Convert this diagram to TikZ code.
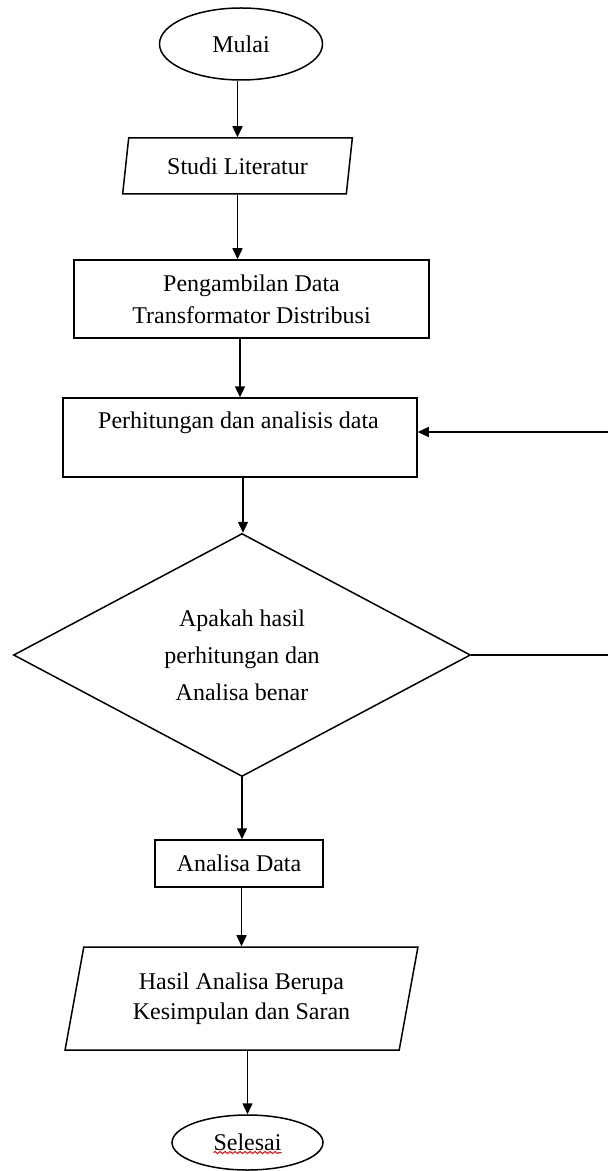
\documentclass[tikz,border=0pt]{standalone}
\usepackage{fontspec}
\setmainfont{Liberation Serif}
\usetikzlibrary{shapes.geometric,arrows.meta,calc,decorations.pathmorphing}
\begin{document}
\begin{tikzpicture}[x=0.5pt,y=-0.5pt,
  base/.style={draw=black, line width=0.75pt, inner sep=0pt, align=center, font=\fontsize{12}{16}\selectfont},
  term/.style={base, ellipse},
  proc/.style={base, rectangle},
  iobox/.style={base, trapezium, trapezium stretches=true},
  decision/.style={base, diamond},
  txt/.style={inner sep=0pt, align=center, font=\fontsize{12}{16}\selectfont},
  arr/.style={line width=0.75pt, -{Triangle[length=5.5pt,width=5pt]}}]
\useasboundingbox (0,0) rectangle (608,1171);
\fill[white] (0,0) rectangle (608,1171);

\node[term, minimum width=81.5pt, minimum height=36pt] (mulai) at (241,44) {Mulai};
\node[iobox, trapezium left angle=77, trapezium right angle=103, minimum width=115.5pt, minimum height=28pt] (studi) at (237.5,166) {Studi Literatur};
\node[proc, minimum width=177.5pt, minimum height=39pt] (ambil) at (251.5,299) {Pengambilan Data\\Transformator Distribusi};
\node[proc, minimum width=177pt, minimum height=39.5pt] (hitung) at (240,437.5) {};
\node[txt] (hitungtxt) at ($(hitung.center)+(-1.5,-14.5)$) {Perhitungan dan analisis data};
\node[decision, aspect=1.88, minimum width=228.5pt, minimum height=121.5pt, font=\fontsize{12}{18.5}\selectfont] (dec) at (242,655) {Apakah hasil\\perhitungan dan\\Analisa benar};
\node[proc, minimum width=84pt, minimum height=23.5pt] (analisa) at (239,863.5) {Analisa Data};
\node[iobox, trapezium left angle=76, trapezium right angle=104, minimum width=176.5pt, minimum height=51.5pt, font=\fontsize{12}{15}\selectfont] (hasil) at (241.5,998.5) {Hasil Analisa Berupa\\Kesimpulan dan Saran};
\node[term, minimum width=75.5pt, minimum height=27.5pt] (selesai) at (247.5,1142.5) {Selesai};
\coordinate (loop) at (614,655);

\draw[arr] (studi.north |- mulai.south) -- (studi.north);
\draw[arr] (studi.south) -- (studi.south |- ambil.north);
\draw[arr] (hitung.north |- ambil.south) -- (hitung.north);
\draw[arr] ($(dec.north |- hitung.south)+(1,0)$) -- ($(dec.north)+(1,0)$);
\draw[arr] (dec.south) -- (dec.south |- analisa.north);
\draw[arr] (hasil.north |- analisa.south) -- (hasil.north);
\draw[arr] (selesai.north |- hasil.south) -- (selesai.north);
\draw[arr] (dec.east) -- (loop) |- ([yshift=2.75pt]hitung.east);

\draw[red, line width=0.5pt, decorate, decoration={snake, amplitude=0.5pt, segment length=2.5pt}]
  ($(selesai.center)+(-34,10)$) -- ($(selesai.center)+(34,10)$);
\end{tikzpicture}
\end{document}
